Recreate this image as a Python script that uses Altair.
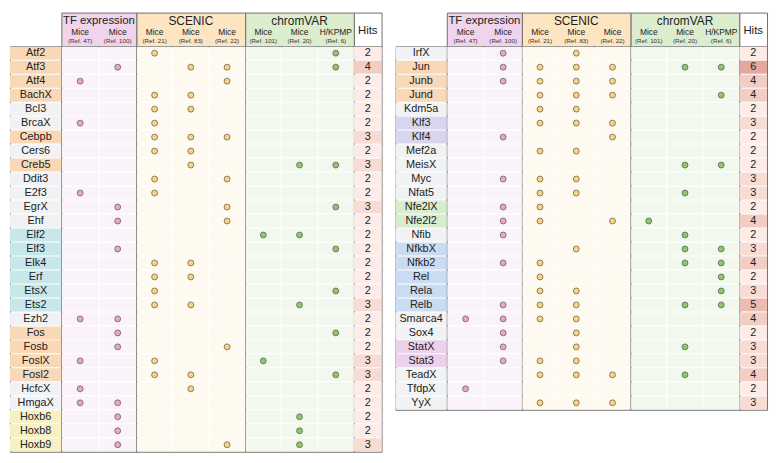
import altair as alt
import pandas as pd

# ---------------- data ----------------
left_genes = ["Atf2", "Atf3", "Atf4", "BachX", "Bcl3", "BrcaX", "Cebpb", "Cers6", "Creb5", "Ddit3",
              "E2f3", "EgrX", "Ehf", "Elf2", "Elf3", "Elk4", "Erf", "EtsX", "Ets2", "Ezh2",
              "Fos", "Fosb", "FoslX", "Fosl2", "HcfcX", "HmgaX", "Hoxb6", "Hoxb8", "Hoxb9"]
left_hits = [2, 4, 2, 2, 2, 2, 3, 2, 3, 2, 2, 3, 2, 2, 2, 2, 2, 2, 3, 2, 2, 2, 3, 3, 2, 2, 2, 2, 3]

right_genes = ["IrfX", "Jun", "Junb", "Jund", "Kdm5a", "Klf3", "Klf4", "Mef2a", "MeisX", "Myc",
               "Nfat5", "Nfe2lX", "Nfe2l2", "Nfib", "NfkbX", "Nfkb2", "Rel", "Rela", "Relb", "Smarca4",
               "Sox4", "StatX", "Stat3", "TeadX", "TfdpX", "YyX"]
right_hits = [2, 6, 4, 4, 2, 3, 2, 2, 2, 3, 3, 2, 4, 2, 3, 4, 2, 3, 5, 4, 2, 3, 3, 4, 2, 3]

# genes marked in each study column
tf_ref47 = ["Atf4", "BrcaX", "E2f3", "Ezh2", "FoslX", "HcfcX", "HmgaX", "Smarca4", "TfdpX"]
tf_ref100 = ["Atf3", "EgrX", "Ehf", "Elf3", "Ezh2", "Fos", "Fosb", "HmgaX", "Hoxb6", "Hoxb8", "Hoxb9",
             "IrfX", "Jun", "Junb", "Klf4", "Myc", "Nfe2lX", "Nfe2l2", "Nfib", "Nfkb2", "Relb",
             "Smarca4", "Sox4", "StatX", "Stat3"]
scenic_ref21 = ["Atf2", "BachX", "Bcl3", "BrcaX", "Cebpb", "Cers6", "Ddit3", "E2f3", "Elk4", "Erf",
                "EtsX", "Ets2", "FoslX", "Fosl2", "Jun", "Junb", "Jund", "Kdm5a", "Klf3", "Mef2a",
                "Myc", "Nfat5", "Nfe2lX", "Nfe2l2", "Nfkb2", "Rel", "Rela", "Relb", "Smarca4",
                "Stat3", "TeadX", "YyX"]
scenic_ref83 = ["Atf3", "BachX", "Bcl3", "Cebpb", "Cers6", "Creb5", "Elk4", "Erf", "Ets2", "Fosl2",
                "HcfcX", "IrfX", "Jun", "Junb", "Jund", "Kdm5a", "Klf3", "Mef2a", "Myc", "Nfat5",
                "NfkbX", "Rela", "Relb", "Smarca4", "Sox4", "StatX", "Stat3", "TeadX", "YyX"]
scenic_ref22 = ["Atf3", "Atf4", "Cebpb", "Ddit3", "EgrX", "Ehf", "Fosb", "Hoxb9", "Jun", "Junb",
                "Jund", "Klf3", "Klf4", "Nfe2l2", "TeadX", "YyX"]
chromvar_ref101 = ["Elf2", "FoslX", "Nfe2l2"]
chromvar_ref20 = ["Creb5", "Elf2", "Ets2", "Hoxb6", "Hoxb8", "Hoxb9", "Jun", "MeisX", "Nfat5", "Nfib",
                  "NfkbX", "Nfkb2", "Relb", "StatX", "TeadX"]
chromvar_ref6 = ["Atf2", "Atf3", "Creb5", "EgrX", "Elf3", "EtsX", "Fos", "Fosl2", "Jun", "Jund",
                 "MeisX", "NfkbX", "Nfkb2", "Rel", "Rela", "Relb"]

# TF families (label colours)
fam_ap1 = ["Atf2", "Atf3", "Atf4", "BachX", "Cebpb", "Creb5", "Fos", "Fosb", "FoslX", "Fosl2",
           "Jun", "Junb", "Jund"]
fam_ets = ["Elf2", "Elf3", "Elk4", "Erf", "EtsX", "Ets2"]
fam_hox = ["Hoxb6", "Hoxb8", "Hoxb9"]
fam_klf = ["Klf3", "Klf4"]
fam_nfe2 = ["Nfe2lX", "Nfe2l2"]
fam_nfkb = ["NfkbX", "Nfkb2", "Rel", "Rela", "Relb"]
fam_stat = ["StatX", "Stat3"]

family_names = ["ap1", "ets", "hox", "klf", "nfe2", "nfkb", "stat", "other"]
family_colors = ["#f9d8b7", "#c8e7ea", "#f6f1c4", "#d8d6ef", "#d8ecce", "#cadcf1", "#ecd1ea", "#f1f2f4"]

hits_levels = [2, 3, 4, 5, 6]
hits_colors = ["#fcebe7", "#f7dcd5", "#f2cdc4", "#ecbcb2", "#e4a79d"]

groups = [
    {"title": "TF expression", "species": ["Mice", "Mice"], "refs": ["(Ref. 47)", "(Ref. 100)"],
     "marks": [tf_ref47, tf_ref100], "head": "#efd4ec", "body": "#fbf3fa", "dot": "#e9a5cd"},
    {"title": "SCENIC", "species": ["Mice", "Mice", "Mice"], "refs": ["(Ref. 21)", "(Ref. 83)", "(Ref. 22)"],
     "marks": [scenic_ref21, scenic_ref83, scenic_ref22], "head": "#fde5c2", "body": "#fffaf0", "dot": "#fdd27b"},
    {"title": "chromVAR", "species": ["Mice", "Mice", "H/KPMP"], "refs": ["(Ref. 101)", "(Ref. 20)", "(Ref. 6)"],
     "marks": [chromvar_ref101, chromvar_ref20, chromvar_ref6], "head": "#dcedcd", "body": "#f3f8ee", "dot": "#8dc766"},
]

# ---------------- style ----------------
FONT = "Liberation Sans"
ROW = 14.15
HEAD = 34
W_LABEL, W_HITS, W_GAP = 52, 28, 14
W_GROUPS = [76, 110, 110]
BORDER = "#707070"
TXT = "#222222"
band = alt.Scale(paddingInner=0, paddingOuter=0)


def family_of(g):
    for name, members in zip(family_names, [fam_ap1, fam_ets, fam_hox, fam_klf, fam_nfe2, fam_nfkb, fam_stat]):
        if g in members:
            return name
    return "other"


def blank(width, height):
    return alt.Chart(pd.DataFrame({"t": [""]})).mark_text().encode(text="t:N").properties(
        width=width, height=height, view=alt.ViewBackground(stroke="transparent", fill="transparent"))


def label_body(genes):
    df = pd.DataFrame({"gene": genes, "family": [family_of(g) for g in genes]})
    base = alt.Chart(df).encode(y=alt.Y("gene:N", sort=genes, axis=None, scale=band))
    rect = base.mark_rect(height=alt.RelativeBandSize(0.93)).encode(
        color=alt.Color("family:N", scale=alt.Scale(domain=family_names, range=family_colors), legend=None))
    txt = base.mark_text(fontSize=11, font=FONT, color=TXT).encode(text="gene:N", x=alt.value(W_LABEL / 2))
    return alt.layer(rect, txt).properties(width=W_LABEL, height=ROW * len(genes),
                                           view=alt.ViewBackground(stroke=BORDER, fill="white"))


def group_head(grp, width):
    cols = grp["refs"]
    hdr = pd.DataFrame({"col": cols, "species": grp["species"], "ref": cols})
    hb = alt.Chart(hdr).encode(x=alt.X("col:N", sort=cols, axis=None, scale=band))
    title = alt.Chart(pd.DataFrame({"t": [grp["title"]]})).mark_text(
        fontSize=12 if grp["title"] != "TF expression" else 11.5, font=FONT, color=TXT).encode(
        text="t:N", x=alt.value(width / 2), y=alt.value(9))
    sp = hb.mark_text(fontSize=8.5, font=FONT, color=TXT).encode(text="species:N", y=alt.value(20))
    rf = hb.mark_text(fontSize=6.3, font=FONT, color="#333333").encode(text="ref:N", y=alt.value(29))
    return alt.layer(title, sp, rf).properties(width=width, height=HEAD,
                                               view=alt.ViewBackground(fill=grp["head"], stroke=BORDER))


def group_body(genes, grp, width):
    cols = grp["refs"]
    rows = []
    for g in genes:
        for c, marked in zip(cols, grp["marks"]):
            rows.append({"gene": g, "col": c, "on": g in marked})
    df = pd.DataFrame(rows)
    base = alt.Chart(df).encode(
        x=alt.X("col:N", sort=cols, axis=None, scale=band),
        y=alt.Y("gene:N", sort=genes, axis=None, scale=band))
    cells = base.mark_rect(fill=grp["body"], width=alt.RelativeBandSize(0.972),
                           height=alt.RelativeBandSize(0.93))
    dots = base.transform_filter("datum.on").mark_circle(
        size=36, fill=grp["dot"], stroke="#555555", strokeWidth=0.7, opacity=1)
    return alt.layer(cells, dots).properties(width=width, height=ROW * len(genes),
                                             view=alt.ViewBackground(stroke=BORDER, fill="white"))


def hits_head():
    return alt.Chart(pd.DataFrame({"t": ["Hits"]})).mark_text(fontSize=11.5, font=FONT, color=TXT).encode(
        text="t:N", x=alt.value(W_HITS / 2), y=alt.value(19)).properties(
        width=W_HITS, height=HEAD, view=alt.ViewBackground(fill="white", stroke=BORDER))


def hits_body(genes, hits):
    df = pd.DataFrame({"gene": genes, "hits": hits})
    base = alt.Chart(df).encode(y=alt.Y("gene:N", sort=genes, axis=None, scale=band))
    rect = base.mark_rect(height=alt.RelativeBandSize(0.93)).encode(
        color=alt.Color("hits:O", scale=alt.Scale(domain=hits_levels, range=hits_colors), legend=None))
    txt = base.mark_text(fontSize=11, font=FONT, color=TXT).encode(text="hits:Q", x=alt.value(W_HITS / 2))
    return alt.layer(rect, txt).properties(width=W_HITS, height=ROW * len(genes),
                                           view=alt.ViewBackground(stroke=BORDER, fill="white"))


def head_row():
    return [blank(W_LABEL, HEAD)] + [group_head(g, w) for g, w in zip(groups, W_GROUPS)] + [hits_head()]


def body_row(genes, hits):
    return ([label_body(genes)] + [group_body(genes, g, w) for g, w in zip(groups, W_GROUPS)]
            + [hits_body(genes, hits)])


cells = (head_row() + [blank(W_GAP, HEAD)] + head_row()
         + body_row(left_genes, left_hits) + [blank(W_GAP, ROW * len(right_genes))]
         + body_row(right_genes, right_hits))

chart = alt.concat(*cells, columns=11, spacing=0, bounds="flush").resolve_scale(
    color="independent", x="independent", y="independent").properties(
    padding={"left": 1, "top": 1, "right": 1, "bottom": 1})

chart.save("out.html", embed_options={"renderer": "svg", "actions": False})
